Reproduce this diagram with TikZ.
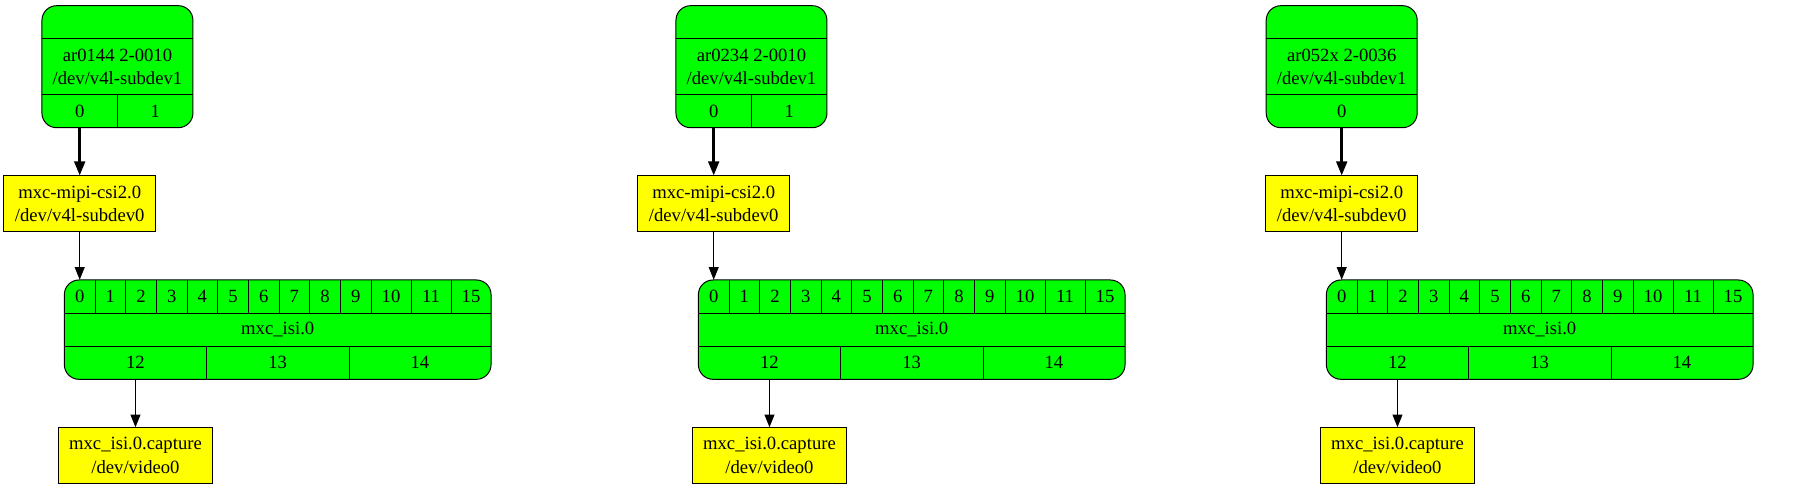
\documentclass[tikz,border=0pt]{standalone}
\usepackage{fontspec}
\setmainfont{Liberation Serif}
\usetikzlibrary{arrows.meta}
\definecolor{entgreen}{RGB}{0,255,0}
\definecolor{devyellow}{RGB}{255,255,0}

\begin{document}
\begin{tikzpicture}[x=0.75pt,y=0.75pt,yscale=-1,xscale=1,
  font=\fontsize{14pt}{17.5pt}\selectfont,
  entity/.style={draw, line width=0.75pt, fill=entgreen, rounded corners=11pt, inner sep=0pt},
  sensorbox/.style={entity, minimum width=113.25pt, minimum height=91.5pt},
  isibox/.style={entity, minimum width=320pt, minimum height=74.5pt},
  devnode/.style={draw, line width=0.75pt, fill=devyellow, inner sep=0pt, align=center, minimum width=#1, minimum height=41.6pt},
  cell/.style={inner sep=0pt, align=center, minimum width=#1, minimum height=25pt},
  divider/.style={line width=0.75pt},
  bold link/.style={line width=2pt, -{Triangle[length=10.5pt,width=8pt]}},
  link/.style={line width=0.75pt, -{Triangle[length=9.5pt,width=7.5pt]}}
]
\useasboundingbox (0,0) rectangle (1800,489);

%%%%% ar0144 pipeline
%Shape: Rounded Rectangle
\node[sensorbox] (s1) at (117.45,66.7) {};
% Text Node
\node[cell=113.25pt, minimum height=41.5pt] (s1n) at (117.45,66.65) {ar0144 2-0010\\/dev/v4l-subdev1};
\node[cell=56.6pt] (s1p0) at (79.7,111) {0};
\node[cell=56.6pt] (s1p1) at (155.2,111) {1};
%Straight Lines
\draw[divider] (s1n.north west) -- (s1n.north east);
\draw[divider] (s1n.south west) -- (s1n.south east);
\draw[divider] (s1p0.north east) -- (s1p0.south east);
%Shape: Rectangle
\node[devnode=113.8pt] (c1) at (79.7,203.7) {mxc-mipi-csi2.0\\/dev/v4l-subdev0};
%Shape: Rounded Rectangle
\node[isibox] (i1) at (277.7,329.65) {};
% Text Node
\node[cell=23pt] (i1p0) at (79.7,296.65) {0};
\foreach \k in {1,...,9} {\node[cell=23pt] (i1p\k) at ({79.7+30.667*\k},296.65) {\k};}
\node[cell=30pt] (i1p10) at (391.04,296.65) {10};
\node[cell=30pt] (i1p11) at (431.04,296.65) {11};
\node[cell=30pt] (i1p15) at (471.04,296.65) {15};
\node[cell=320pt, minimum height=24.5pt] (i1n) at (277.7,329.65) {mxc\_isi.0};
\node[cell=106.67pt] (i1p12) at (135.48,362.65) {12};
\node[cell=106.67pt] (i1p13) at (277.7,362.65) {13};
\node[cell=106.67pt] (i1p14) at (419.92,362.65) {14};
%Straight Lines
\draw[divider] (i1p0.south west) -- (i1p15.south east);
\draw[divider] (i1n.south west) -- (i1n.south east);
\foreach \k in {0,...,11} {\draw[divider] (i1p\k.north east) -- (i1p\k.south east);}
\draw[divider] (i1p12.north east) -- (i1p12.south east);
\draw[divider] (i1p13.north east) -- (i1p13.south east);
%Shape: Rectangle
\node[devnode=115.3pt, minimum height=41.7pt] (k1) at (135.48,455.5) {mxc\_isi.0.capture\\/dev/video0};
%Connectors
\draw[bold link] (s1p0.south) -- (c1.north);
\draw[link] (c1.south) -- (i1p0.north);
\draw[link] (i1p12.south) -- (k1.north);

%%%%% ar0234 pipeline
\begin{scope}[shift={(634,0)}]
%Shape: Rounded Rectangle
\node[sensorbox] (s2) at (117.45,66.7) {};
% Text Node
\node[cell=113.25pt, minimum height=41.5pt] (s2n) at (117.45,66.65) {ar0234 2-0010\\/dev/v4l-subdev1};
\node[cell=56.6pt] (s2p0) at (79.7,111) {0};
\node[cell=56.6pt] (s2p1) at (155.2,111) {1};
%Straight Lines
\draw[divider] (s2n.north west) -- (s2n.north east);
\draw[divider] (s2n.south west) -- (s2n.south east);
\draw[divider] (s2p0.north east) -- (s2p0.south east);
%Shape: Rectangle
\node[devnode=113.8pt] (c2) at (79.7,203.7) {mxc-mipi-csi2.0\\/dev/v4l-subdev0};
%Shape: Rounded Rectangle
\node[isibox] (i2) at (277.7,329.65) {};
% Text Node
\node[cell=23pt] (i2p0) at (79.7,296.65) {0};
\foreach \k in {1,...,9} {\node[cell=23pt] (i2p\k) at ({79.7+30.667*\k},296.65) {\k};}
\node[cell=30pt] (i2p10) at (391.04,296.65) {10};
\node[cell=30pt] (i2p11) at (431.04,296.65) {11};
\node[cell=30pt] (i2p15) at (471.04,296.65) {15};
\node[cell=320pt, minimum height=24.5pt] (i2n) at (277.7,329.65) {mxc\_isi.0};
\node[cell=106.67pt] (i2p12) at (135.48,362.65) {12};
\node[cell=106.67pt] (i2p13) at (277.7,362.65) {13};
\node[cell=106.67pt] (i2p14) at (419.92,362.65) {14};
%Straight Lines
\draw[divider] (i2p0.south west) -- (i2p15.south east);
\draw[divider] (i2n.south west) -- (i2n.south east);
\foreach \k in {0,...,11} {\draw[divider] (i2p\k.north east) -- (i2p\k.south east);}
\draw[divider] (i2p12.north east) -- (i2p12.south east);
\draw[divider] (i2p13.north east) -- (i2p13.south east);
%Shape: Rectangle
\node[devnode=115.3pt, minimum height=41.7pt] (k2) at (135.48,455.5) {mxc\_isi.0.capture\\/dev/video0};
%Connectors
\draw[bold link] (s2p0.south) -- (c2.north);
\draw[link] (c2.south) -- (i2p0.north);
\draw[link] (i2p12.south) -- (k2.north);
\end{scope}

%%%%% ar052x pipeline
\begin{scope}[shift={(1262,0)}]
%Shape: Rounded Rectangle
\node[sensorbox] (s3) at (79.7,66.7) {};
% Text Node
\node[cell=113.25pt, minimum height=41.5pt] (s3n) at (79.7,66.65) {ar052x 2-0036\\/dev/v4l-subdev1};
\node[cell=113.25pt] (s3p0) at (79.7,111) {0};
%Straight Lines
\draw[divider] (s3n.north west) -- (s3n.north east);
\draw[divider] (s3n.south west) -- (s3n.south east);
%Shape: Rectangle
\node[devnode=113.8pt] (c3) at (79.7,203.7) {mxc-mipi-csi2.0\\/dev/v4l-subdev0};
%Shape: Rounded Rectangle
\node[isibox] (i3) at (277.7,329.65) {};
% Text Node
\node[cell=23pt] (i3p0) at (79.7,296.65) {0};
\foreach \k in {1,...,9} {\node[cell=23pt] (i3p\k) at ({79.7+30.667*\k},296.65) {\k};}
\node[cell=30pt] (i3p10) at (391.04,296.65) {10};
\node[cell=30pt] (i3p11) at (431.04,296.65) {11};
\node[cell=30pt] (i3p15) at (471.04,296.65) {15};
\node[cell=320pt, minimum height=24.5pt] (i3n) at (277.7,329.65) {mxc\_isi.0};
\node[cell=106.67pt] (i3p12) at (135.48,362.65) {12};
\node[cell=106.67pt] (i3p13) at (277.7,362.65) {13};
\node[cell=106.67pt] (i3p14) at (419.92,362.65) {14};
%Straight Lines
\draw[divider] (i3p0.south west) -- (i3p15.south east);
\draw[divider] (i3n.south west) -- (i3n.south east);
\foreach \k in {0,...,11} {\draw[divider] (i3p\k.north east) -- (i3p\k.south east);}
\draw[divider] (i3p12.north east) -- (i3p12.south east);
\draw[divider] (i3p13.north east) -- (i3p13.south east);
%Shape: Rectangle
\node[devnode=115.3pt, minimum height=41.7pt] (k3) at (135.48,455.5) {mxc\_isi.0.capture\\/dev/video0};
%Connectors
\draw[bold link] (s3p0.south) -- (c3.north);
\draw[link] (c3.south) -- (i3p0.north);
\draw[link] (i3p12.south) -- (k3.north);
\end{scope}

\end{tikzpicture}
\end{document}
